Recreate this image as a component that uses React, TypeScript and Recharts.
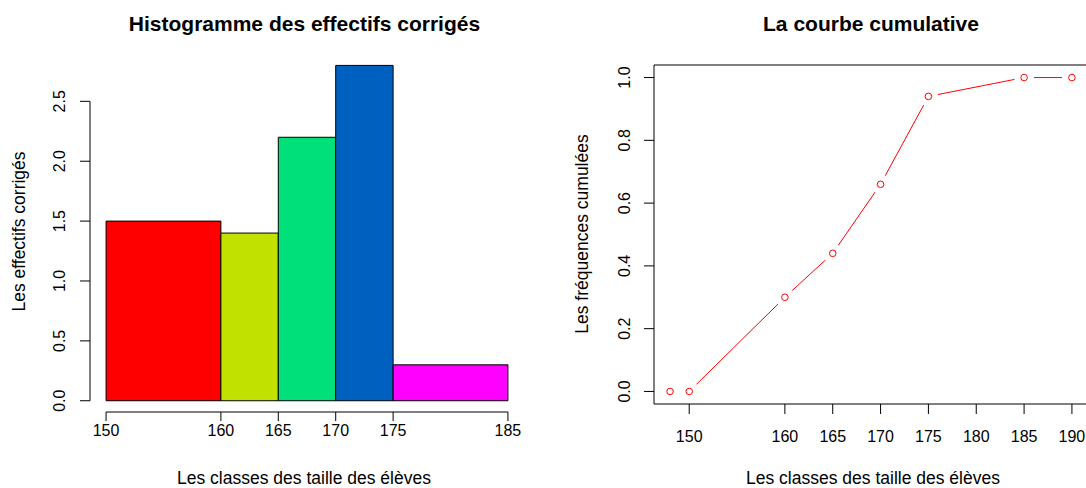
import React from 'react';
import {
  ComposedChart,
  LineChart,
  Line,
  XAxis,
  YAxis,
  ReferenceArea,
  ReferenceLine,
} from 'recharts';

// ---------- Data: histogram ----------
const classBreaks = [150, 160, 165, 170, 175, 185];
const correctedCounts = [1.5, 1.4, 2.2, 2.8, 0.3];
const barColors = ['#FF0000', '#C1E100', '#00E07A', '#0060C0', '#FF00FF'];
const histXTicks = [150, 160, 165, 170, 175, 185];
const histYTicks = [0, 0.5, 1, 1.5, 2, 2.5];

// ---------- Data: cumulative curve ----------
const cumX = [148, 150, 160, 165, 170, 175, 185, 190];
const cumFreq = [0, 0, 0.3, 0.44, 0.66, 0.94, 1, 1];
const cumXTicks = [150, 160, 165, 170, 175, 180, 185, 190];
const cumYTicks = [0, 0.2, 0.4, 0.6, 0.8, 1];

// ---------- Texts ----------
const histTitle = 'Histogramme des effectifs corrigés';
const cumTitle = 'La courbe cumulative';
const xLabel = 'Les classes des taille des élèves';
const histYLabel = 'Les effectifs corrigés';
const cumYLabel = 'Les fréquences cumulées';

const FONT = '"Liberation Sans", Arial, Helvetica, sans-serif';

const histData = correctedCounts.map((h, i) => ({
  x0: classBreaks[i],
  x1: classBreaks[i + 1],
  h,
  color: barColors[i],
}));
const cumData = cumX.map((x, i) => ({ x, y: cumFreq[i] }));

// R-like 4% axis extension
const histXDomain = [150 - 1.4, 185 + 1.4];
const histYDomain = [-0.094, 2.912];
const cumXDomain = [146.32, 191.68];
const cumYDomain = [-0.04, 1.04];

const makeYTick = (gap: number) => (props: any) => {
  const { x, y, payload } = props;
  return (
    <text
      transform={`translate(${x - gap}, ${y}) rotate(-90)`}
      textAnchor="middle"
      dy="0.36em"
      fontFamily={FONT}
      fontSize={16}
      fill="#000"
    >
      {Number(payload.value).toFixed(1)}
    </text>
  );
};

const makeXTick = (gap: number) => (props: any) => {
  const { x, y, payload } = props;
  return (
    <text
      x={x}
      y={y + gap}
      textAnchor="middle"
      fontFamily={FONT}
      fontSize={16}
      fill="#000"
    >
      {payload.value}
    </text>
  );
};

const CumDot = (p: any) => {
  if (p.cx == null || p.cy == null) return <g key={p.index} />;
  return (
    <g key={`d${p.index}`}>
      <circle cx={p.cx} cy={p.cy} r={10} fill="#fff" stroke="none" />
      <circle cx={p.cx} cy={p.cy} r={3.3} fill="none" stroke="#FF0000" strokeWidth={1} />
    </g>
  );
};

export default function App() {
  return (
    <div
      style={{
        position: 'absolute',
        left: 0,
        top: 0,
        width: 1086,
        height: 488,
        overflow: 'hidden',
        background: '#fff',
        fontFamily: FONT,
      }}
    >
      {/* Left: histogram */}
      <div style={{ position: 'absolute', left: 0, top: 0 }}>
        <ComposedChart
          width={543}
          height={488}
          data={histData}
          margin={{ top: 52, right: 19, bottom: 0, left: 0 }}
        >
          <XAxis
            type="number"
            dataKey="x0"
            domain={histXDomain}
            allowDataOverflow
            ticks={histXTicks}
            interval={0}
            height={76}
            axisLine={false}
            tickSize={9}
            tickMargin={0}
            tickLine={{ stroke: '#000', strokeWidth: 1 }}
            tick={makeXTick(15)}
          />
          <YAxis
            type="number"
            domain={histYDomain}
            allowDataOverflow
            ticks={histYTicks}
            interval={0}
            width={90}
            axisLine={false}
            tickSize={10}
            tickMargin={0}
            tickLine={{ stroke: '#000', strokeWidth: 1 }}
            tick={makeYTick(21)}
          />
          {histData.map((d, i) => (
            <ReferenceArea
              key={`bar${i}`}
              x1={d.x0}
              x2={d.x1}
              y1={0}
              y2={d.h}
              fill={d.color}
              fillOpacity={1}
              stroke="#000"
              strokeWidth={1}
              strokeOpacity={1}
              ifOverflow="visible"
            />
          ))}
          <ReferenceLine
            segment={[
              { x: histXTicks[0], y: histYDomain[0] },
              { x: histXTicks[histXTicks.length - 1], y: histYDomain[0] },
            ]}
            stroke="#000"
            strokeWidth={1}
            ifOverflow="visible"
          />
          <ReferenceLine
            segment={[
              { x: histXDomain[0], y: histYTicks[0] },
              { x: histXDomain[0], y: histYTicks[histYTicks.length - 1] },
            ]}
            stroke="#000"
            strokeWidth={1}
            ifOverflow="visible"
          />
        </ComposedChart>
      </div>

      {/* Right: cumulative curve */}
      <div style={{ position: 'absolute', left: 543, top: 0 }}>
        <LineChart
          width={546}
          height={488}
          data={cumData}
          margin={{ top: 65, right: 1, bottom: 0, left: 0 }}
        >
          <XAxis
            type="number"
            dataKey="x"
            domain={cumXDomain}
            allowDataOverflow
            ticks={cumXTicks}
            interval={0}
            height={84}
            axisLine={{ stroke: '#000', strokeWidth: 1 }}
            tickSize={10}
            tickMargin={0}
            tickLine={{ stroke: '#000', strokeWidth: 1 }}
            tick={makeXTick(28)}
          />
          <YAxis
            type="number"
            domain={cumYDomain}
            allowDataOverflow
            ticks={cumYTicks}
            interval={0}
            width={111}
            axisLine={{ stroke: '#000', strokeWidth: 1 }}
            tickSize={10}
            tickMargin={0}
            tickLine={{ stroke: '#000', strokeWidth: 1 }}
            tick={makeYTick(20)}
          />
          <ReferenceLine
            y={cumYDomain[1]}
            stroke="#000"
            strokeWidth={1}
            ifOverflow="visible"
          />
          <Line
            type="linear"
            dataKey="y"
            stroke="#FF0000"
            strokeWidth={1}
            dot={CumDot}
            activeDot={false}
            isAnimationActive={false}
          />
        </LineChart>
      </div>

      {/* Titles and axis labels */}
      <svg
        width={1086}
        height={488}
        style={{ position: 'absolute', left: 0, top: 0, pointerEvents: 'none' }}
      >
        <text x={304.5} y={31} textAnchor="middle" fontFamily={FONT} fontSize={21} fontWeight="bold" fill="#000">
          {histTitle}
        </text>
        <text x={871} y={31} textAnchor="middle" fontFamily={FONT} fontSize={21} fontWeight="bold" fill="#000">
          {cumTitle}
        </text>
        <text x={304} y={484} textAnchor="middle" fontFamily={FONT} fontSize={17.5} fill="#000">
          {xLabel}
        </text>
        <text x={873} y={484} textAnchor="middle" fontFamily={FONT} fontSize={17.5} fill="#000">
          {xLabel}
        </text>
        <text
          transform="translate(24.5, 231.5) rotate(-90)"
          textAnchor="middle"
          fontFamily={FONT}
          fontSize={17.5}
          fill="#000"
        >
          {histYLabel}
        </text>
        <text
          transform="translate(588, 234) rotate(-90)"
          textAnchor="middle"
          fontFamily={FONT}
          fontSize={17.5}
          fill="#000"
        >
          {cumYLabel}
        </text>
      </svg>
    </div>
  );
}
